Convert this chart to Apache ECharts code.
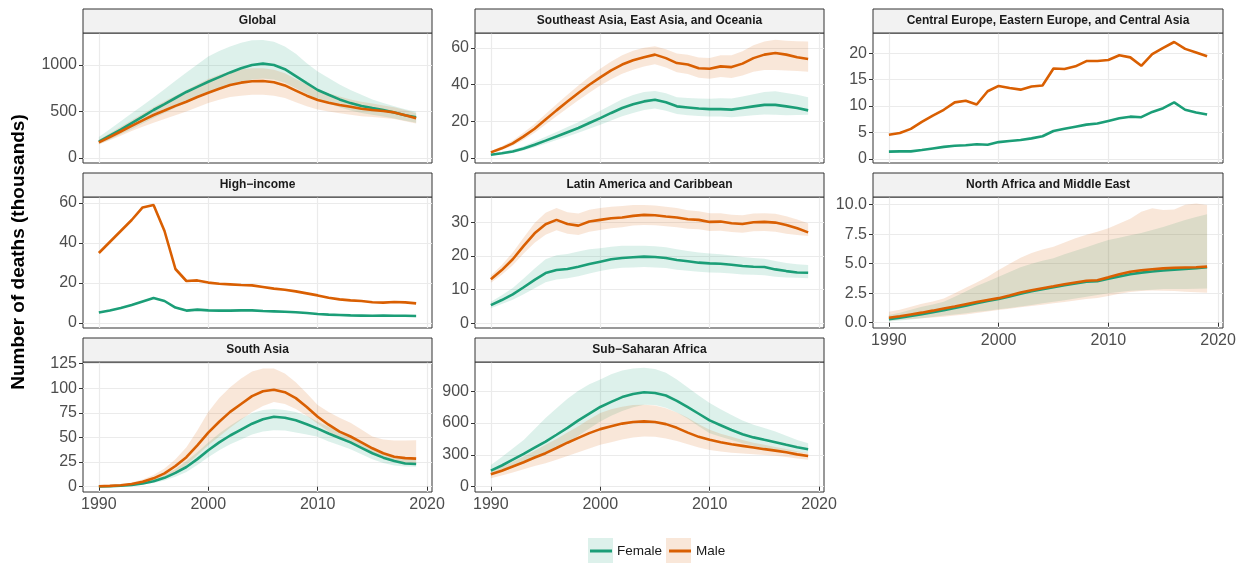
<!DOCTYPE html>
<html><head><meta charset="utf-8">
<script src="https://cdn.jsdelivr.net/npm/echarts@6/dist/echarts.min.js"></script>
<style>html,body{margin:0;padding:0;background:#fff}#c{width:1245px;height:563px}</style>
</head><body><div id="c"></div>
<script>
const years = [1990,1991,1992,1993,1994,1995,1996,1997,1998,1999,2000,2001,2002,2003,2004,2005,2006,2007,2008,2009,2010,2011,2012,2013,2014,2015,2016,2017,2018,2019];
const xTicks = [1990,2000,2010,2020];

// Global
const globalF   = [175,240,305,375,445,516,580,645,710,765,820,870,920,965,1000,1015,1000,955,880,805,731,680,630,590,560,537,515,490,460,437];
const globalFHi = [225,310,395,480,565,650,740,830,920,1005,1090,1150,1200,1240,1265,1268,1250,1200,1120,1020,930,860,790,730,680,630,590,555,525,498];
const globalFLo = [150,200,255,310,370,430,485,540,595,645,695,740,780,815,845,855,845,810,750,690,630,585,545,510,485,465,445,425,400,380];
const globalM   = [168,225,285,345,405,462,510,560,605,655,702,745,785,810,825,828,815,780,725,670,624,595,570,550,530,516,505,490,460,427];
const globalMHi = [195,265,335,405,475,545,610,670,730,790,850,895,930,955,965,965,950,910,850,790,735,695,660,630,605,585,565,545,515,480];
const globalMLo = [145,190,240,290,335,380,420,460,500,545,590,625,655,670,680,680,670,645,600,555,520,500,480,465,450,440,430,420,395,370];
const globalTicks = [0,500,1000];

// Southeast Asia, East Asia, and Oceania
const seaF   = [1.8,2.6,3.6,5.2,7.3,9.5,11.8,14.1,16.4,19.1,21.8,24.6,27.3,29.3,30.9,31.8,30.4,28.2,27.6,27.0,26.7,26.7,26.4,27.3,28.2,29.0,29.0,28.2,27.3,26.0];
const seaFLo = [1.4,2.0,2.8,4.1,5.9,7.8,9.8,11.8,13.8,16.0,18.2,20.5,22.8,24.6,26.2,27.0,25.8,24.0,23.4,22.9,22.6,22.6,22.2,22.8,23.3,23.7,23.6,23.4,23.5,23.6];
const seaFHi = [2.3,3.3,4.6,6.5,9.0,11.6,14.2,16.9,19.5,22.6,25.8,29.0,32.1,34.4,36.0,36.6,35.3,33.2,32.8,32.5,32.4,32.6,32.5,33.6,34.8,36.0,36.4,35.5,34.5,33.2];
const seaM   = [3.1,5.3,8.0,11.8,16.0,21.0,26.0,30.8,35.5,40.0,44.0,47.8,51.0,53.3,55.0,56.4,54.5,51.8,51.0,49.0,48.7,50.0,49.6,51.5,54.5,56.4,57.3,56.4,55.0,54.0];
const seaMLo = [2.5,4.4,6.7,10.0,13.8,18.3,22.8,27.2,31.5,35.6,39.5,43.0,46.0,48.2,49.9,51.2,49.4,46.8,45.8,43.8,43.3,44.2,43.6,45.0,47.0,48.0,48.0,47.8,47.5,47.0];
const seaMHi = [3.8,6.4,9.6,14.0,18.6,24.0,29.4,34.5,39.5,44.4,48.7,52.7,56.0,58.5,60.2,61.0,59.4,57.0,56.4,54.8,54.6,56.0,56.0,58.3,61.5,63.6,64.5,64.0,63.7,63.5];
const seaTicks = [0,20,40,60];

// Central Europe, Eastern Europe, and Central Asia
const ceF = [1.4,1.45,1.45,1.7,2.0,2.3,2.5,2.6,2.8,2.7,3.2,3.4,3.6,3.9,4.3,5.3,5.7,6.1,6.5,6.7,7.2,7.7,8.0,7.9,8.9,9.6,10.7,9.3,8.8,8.4];
const ceM = [4.6,4.9,5.7,7.0,8.2,9.3,10.7,11.0,10.3,12.8,13.8,13.4,13.1,13.7,13.9,17.1,17.0,17.5,18.5,18.5,18.7,19.6,19.2,17.6,19.8,21.0,22.1,20.8,20.1,19.4];
const ceTicks = [0,5,10,15,20];

// High-income
const hiF = [5.2,6.3,7.5,9.0,10.8,12.5,11.0,7.7,6.2,6.7,6.3,6.2,6.2,6.3,6.3,6.0,5.8,5.6,5.4,5.0,4.5,4.2,4.0,3.8,3.7,3.6,3.7,3.6,3.6,3.5];
const hiM = [35,40.5,46,51.5,57.8,59,46,27,21,21.3,20.2,19.6,19.3,19.0,18.8,18.0,17.2,16.6,15.8,14.8,13.8,12.6,11.8,11.3,11.0,10.4,10.2,10.5,10.3,9.8];
const hiTicks = [0,20,40,60];

// Latin America and Caribbean
const laF   = [5.4,6.9,8.6,10.7,12.9,14.9,15.8,16.1,16.8,17.6,18.3,19.0,19.4,19.6,19.8,19.7,19.4,18.8,18.4,18.0,17.8,17.7,17.4,17.0,16.8,16.7,16.0,15.5,15.1,15.0];
const laFHi = [6.4,8.3,10.5,13.3,16.3,19.0,20.2,20.6,21.3,22.0,22.3,22.7,23.0,23.0,23.0,22.9,22.6,22.0,21.5,21.0,20.7,20.5,20.1,19.7,19.4,19.2,18.5,17.9,17.5,17.3];
const laFLo = [4.5,5.7,7.0,8.6,10.4,12.2,13.0,13.4,14.0,14.8,15.5,16.1,16.5,16.6,16.7,16.6,16.4,15.9,15.6,15.3,15.1,15.0,14.8,14.5,14.4,14.3,13.8,13.6,13.5,13.4];
const laM   = [13.1,15.8,19.0,23.0,26.7,29.4,30.7,29.5,29.0,30.2,30.7,31.2,31.4,31.9,32.2,32.1,31.7,31.4,30.9,30.7,30.1,30.2,29.7,29.5,30.0,30.1,29.9,29.2,28.2,27.0];
const laMHi = [14.2,17.3,21.0,25.5,29.8,32.8,34.2,33.0,32.6,33.7,34.2,34.6,34.8,35.1,35.1,35.0,34.6,34.2,33.6,33.3,32.7,32.7,32.2,32.1,32.6,32.7,32.5,31.8,30.8,29.7];
const laMLo = [12.0,14.4,17.2,20.7,23.9,26.3,27.6,26.6,26.2,27.2,27.7,28.2,28.5,29.0,29.2,29.1,28.8,28.5,28.1,27.9,27.4,27.5,27.1,26.9,27.3,27.4,27.2,26.6,26.2,25.9];
const laTicks = [0,10,20,30];

// North Africa and Middle East
const naF   = [0.3,0.42,0.56,0.72,0.88,1.05,1.24,1.44,1.64,1.83,2.0,2.22,2.45,2.66,2.84,3.0,3.17,3.33,3.47,3.52,3.72,3.92,4.1,4.24,4.34,4.42,4.5,4.56,4.62,4.7];
const naFHi = [0.65,0.85,1.1,1.35,1.55,1.78,2.2,2.65,3.1,3.5,3.9,4.3,4.7,5.0,5.25,5.45,5.8,6.1,6.4,6.7,7.0,7.2,7.4,7.6,7.85,8.1,8.4,8.7,8.95,9.18];
const naFLo = [0.1,0.18,0.28,0.38,0.48,0.6,0.7,0.8,0.92,1.02,1.13,1.25,1.38,1.5,1.65,1.78,1.9,2.05,2.2,2.35,2.5,2.6,2.7,2.75,2.8,2.85,2.85,2.85,2.88,2.9];
const naM   = [0.42,0.55,0.7,0.85,1.02,1.2,1.38,1.57,1.76,1.93,2.08,2.3,2.55,2.75,2.92,3.08,3.25,3.4,3.55,3.6,3.84,4.1,4.32,4.45,4.53,4.6,4.65,4.68,4.7,4.75];
const naMHi = [0.93,1.1,1.35,1.6,1.8,2.06,2.5,2.95,3.4,3.9,4.46,5.0,5.5,5.9,6.2,6.44,6.8,7.15,7.45,7.7,8.0,8.4,8.8,9.4,9.7,9.55,9.6,10.0,10.1,9.97];
const naMLo = [0.17,0.25,0.32,0.38,0.44,0.5,0.6,0.7,0.82,0.95,1.07,1.18,1.3,1.42,1.53,1.64,1.75,1.87,2.0,2.1,2.26,2.45,2.6,2.68,2.72,2.7,2.68,2.62,2.58,2.54];
const naTicks = [0,2.5,5,7.5,10];

// South Asia
const saF   = [0.3,0.5,1,1.8,3.2,5.5,9,14,20,28,37,45,52,58,64,68.5,71,70,67.5,63.5,59,54,49.5,45,39.5,34,29.5,26,23.5,23];
const saFHi = [0.5,0.8,1.5,2.6,4.5,7.5,12,18,26,35,45,54,62,69,75,78,79,78,76,72,66,61,56,51,45,39,34,30,28,27];
const saFLo = [0.2,0.3,0.6,1.2,2.2,3.8,6.4,10,15,22,30,37,43,48,53,56,57.4,57,55,53,50.7,46,42,38,33,28,24,21.5,20.5,20.3];
const saM   = [0.5,0.8,1.5,2.8,5,8.5,13.5,21,30,42,55,66,76,84,92,97,98.5,96,90,81,71,63,56,51,45,39,34,30.5,29,28.5];
const saMHi = [0.8,1.3,2.4,4.2,7.2,11.8,18.5,28,40,57,76,90,101,110,117,120,120,115,106,95,83,76,70,65,58,51,48,47,47,47.3];
const saMLo = [0.3,0.5,0.9,1.7,3.2,5.7,9.5,15,22,32,42,51,60,68,76,82,86,84,79,72,64,56,49,44,39,35,30,26,24,23.6];
const saTicks = [0,25,50,75,100,125];

// Sub-Saharan Africa
const ssaF   = [152,200,255,310,368,426,490,555,625,690,752,800,845,875,890,884,860,810,750,688,625,580,535,495,465,442,420,395,372,354];
const ssaFHi = [205,280,360,440,545,647,740,830,905,965,1010,1060,1095,1115,1121,1110,1075,1010,935,860,790,730,675,625,585,553,520,480,440,410];
const ssaFLo = [110,140,180,220,260,300,355,415,480,550,616,670,715,750,774,770,745,700,640,570,505,470,440,410,385,363,350,340,328,316];
const ssaM   = [117,150,190,230,275,316,365,415,460,505,543,570,595,610,616,610,590,555,510,470,442,420,400,385,370,354,340,325,305,290];
const ssaMHi = [142,185,235,285,340,395,450,510,570,635,695,730,755,770,774,765,740,700,650,590,537,500,470,440,415,395,375,355,335,316];
const ssaMLo = [79,105,135,165,195,221,255,290,325,360,395,420,445,465,474,470,455,430,400,370,347,333,320,312,305,300,292,280,265,253];
const ssaTicks = [0,300,600,900];

const legendNames = ['Female','Male'];
const FEMALE = '#1b9e77', MALE = '#d95f02';
const FEMALE_FILL = 'rgba(27,158,119,0.15)', MALE_FILL = 'rgba(217,95,2,0.15)';
const FONT = '"Liberation Sans", Arial, Helvetica, sans-serif';

const panels = [
  {title:'Global', col:0,row:0, f:globalF,fLo:globalFLo,fHi:globalFHi, m:globalM,mLo:globalMLo,mHi:globalMHi, yMin:-54,yMax:1344, ticks:globalTicks, xl:false},
  {title:'Southeast Asia, East Asia, and Oceania', col:1,row:0, f:seaF,fLo:seaFLo,fHi:seaFHi, m:seaM,mLo:seaMLo,mHi:seaMHi, yMin:-2.7,yMax:68.2, ticks:seaTicks, xl:false},
  {title:'Central Europe, Eastern Europe, and Central Asia', col:2,row:0, f:ceF, m:ceM, yMin:-0.75,yMax:23.8, ticks:ceTicks, xl:false},
  {title:'High\u2212income', col:0,row:1, f:hiF, m:hiM, yMin:-2.5,yMax:63, ticks:hiTicks, xl:false},
  {title:'Latin America and Caribbean', col:1,row:1, f:laF,fLo:laFLo,fHi:laFHi, m:laM,mLo:laMLo,mHi:laMHi, yMin:-1.4,yMax:37.5, ticks:laTicks, xl:false},
  {title:'North Africa and Middle East', col:2,row:1, f:naF,fLo:naFLo,fHi:naFHi, m:naM,mLo:naMLo,mHi:naMHi, yMin:-0.45,yMax:10.65, ticks:naTicks, xl:true, dec:1},
  {title:'South Asia', col:0,row:2, f:saF,fLo:saFLo,fHi:saFHi, m:saM,mLo:saMLo,mHi:saMHi, yMin:-5.4,yMax:126.7, ticks:saTicks, xl:true},
  {title:'Sub\u2212Saharan Africa', col:1,row:2, f:ssaF,fLo:ssaFLo,fHi:ssaFHi, m:ssaM,mLo:ssaMLo,mHi:ssaMHi, yMin:-50,yMax:1176, ticks:ssaTicks, xl:true}
];

const cols = [{left:83,width:349},{left:475,width:349},{left:873,width:350}];
const rows = [{top:33,height:130},{top:197,height:131},{top:362,height:130}];
const STRIP = 24;

const grids=[], xAxes=[], yAxes=[], series=[], graphics=[];

function ribbon(gi, lo, hi, color){
  return {
    type:'custom', xAxisIndex:gi, yAxisIndex:gi, silent:true, z:1, clip:true,
    data: years.map((y,k)=>[y, lo[k], hi[k]]),
    encode:{x:0, y:[1,2]},
    renderItem:function(params, api){
      if (params.dataIndex !== 0) return null;
      const pts=[];
      for (let k=0;k<years.length;k++) pts.push(api.coord([years[k], hi[k]]));
      for (let k=years.length-1;k>=0;k--) pts.push(api.coord([years[k], lo[k]]));
      return {type:'polygon', shape:{points:pts}, style:{fill:color}};
    }
  };
}

panels.forEach((p,i)=>{
  const c = cols[p.col], r = rows[p.row];
  grids.push({left:c.left, top:r.top, width:c.width, height:r.height, show:true, borderColor:'#333', borderWidth:1, backgroundColor:'#fff', containLabel:false});
  xAxes.push({
    type:'value', gridIndex:i, min:1988.55, max:2020.45,
    axisLine:{show:false},
    axisTick:{show:p.xl, length:4, lineStyle:{color:'#333'}, customValues:xTicks},
    axisLabel:{show:p.xl, customValues:xTicks, margin:5, color:'#4d4d4d', fontSize:16, fontFamily:FONT, formatter:v=>String(v)},
    splitLine:{show:true, lineStyle:{color:'#ebebeb', width:1.2}}
  });
  yAxes.push({
    type:'value', gridIndex:i, min:p.yMin, max:p.yMax,
    axisLine:{show:false},
    axisTick:{show:true, length:4, lineStyle:{color:'#333'}, customValues:p.ticks},
    axisLabel:{show:true, customValues:p.ticks, margin:6, color:'#4d4d4d', fontSize:16, fontFamily:FONT,
      formatter:v=> p.dec ? Number(v).toFixed(p.dec) : String(v)},
    splitLine:{show:true, lineStyle:{color:'#ebebeb', width:1.2}}
  });
  if (p.fLo) series.push(ribbon(i, p.fLo, p.fHi, FEMALE_FILL));
  if (p.mLo) series.push(ribbon(i, p.mLo, p.mHi, MALE_FILL));
  series.push({type:'line', name:legendNames[0], xAxisIndex:i, yAxisIndex:i, data:years.map((y,k)=>[y,p.f[k]]),
    showSymbol:false, symbol:'none', z:3, lineStyle:{color:FEMALE, width:2.6}, itemStyle:{color:FEMALE}, silent:true});
  series.push({type:'line', name:legendNames[1], xAxisIndex:i, yAxisIndex:i, data:years.map((y,k)=>[y,p.m[k]]),
    showSymbol:false, symbol:'none', z:4, lineStyle:{color:MALE, width:2.6}, itemStyle:{color:MALE}, silent:true});
  graphics.push({type:'rect', shape:{x:c.left, y:r.top-STRIP, width:c.width, height:STRIP},
    style:{fill:'#f2f2f2', stroke:'#333', lineWidth:1}, z:5});
  graphics.push({type:'text', x:c.left+c.width/2, y:r.top-STRIP/2, z:6,
    style:{text:p.title, fill:'#1a1a1a', fontSize:12, fontWeight:'bold', fontFamily:FONT, align:'center', verticalAlign:'middle'}});
});

graphics.push({type:'text', x:19, y:252, rotation:Math.PI/2, z:6,
  style:{text:'Number of deaths (thousands)', fill:'#000', fontSize:19, fontWeight:'bold', fontFamily:FONT, align:'center', verticalAlign:'middle'}});
graphics.push({type:'rect', shape:{x:588, y:538, width:25, height:25}, style:{fill:FEMALE_FILL}, z:0});
graphics.push({type:'rect', shape:{x:666, y:538, width:25, height:25}, style:{fill:MALE_FILL}, z:0});

const chart = echarts.init(document.getElementById('c'), null, {renderer:'canvas'});
chart.setOption({
  animation:false,
  backgroundColor:'#fff',
  grid:grids, xAxis:xAxes, yAxis:yAxes, series:series,
  legend:{data:legendNames, left:590, top:544, padding:0, icon:'rect', itemWidth:22, itemHeight:3, itemGap:7,
    textStyle:{fontSize:13.5, color:'#1a1a1a', fontFamily:FONT}, z:10},
  graphic:graphics
});
</script></body></html>
